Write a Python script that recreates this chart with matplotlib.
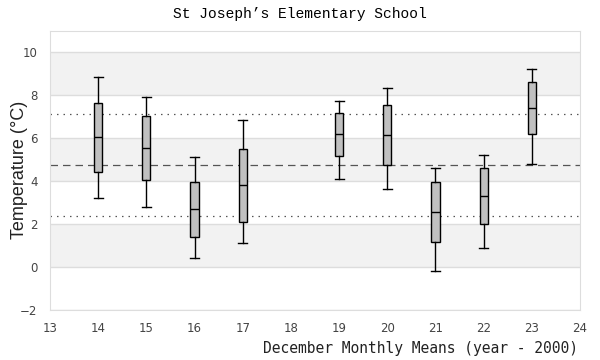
"""Box plot of December monthly means."""
import matplotlib
matplotlib.use("Agg")
import matplotlib.pyplot as plt

years = [14, 15, 16, 17, 19, 20, 21, 22, 23]
whisk_lo = [3.21, 2.79, 0.42, 1.13, 4.09, 3.63, -0.17, 0.88, 4.79]
q1 = [4.42, 4.03, 1.40, 2.09, 5.18, 4.76, 1.16, 2.00, 6.19]
med = [6.06, 5.55, 2.70, 3.81, 6.19, 6.14, 2.56, 3.32, 7.40]
q3 = [7.63, 7.04, 3.98, 5.49, 7.16, 7.53, 3.95, 4.60, 8.60]
whisk_hi = [8.84, 7.91, 5.12, 6.84, 7.72, 8.33, 4.60, 5.21, 9.21]

mean_temp = 4.76
sd_temp = 2.38

y_ticks = [-2, 0, 2, 4, 6, 8, 10]
x_ticks = list(range(13, 25))


def main():
    dpi = 100
    fig = plt.figure(figsize=(600 / dpi, 360 / dpi), dpi=dpi)
    ax = fig.add_axes([50 / 600, 50 / 360, 530 / 600, 279.3 / 360])

    # alternating bands
    for lo in [0, 4, 8]:
        ax.axhspan(lo, lo + 2, color="#f2f2f2", zorder=0, lw=0)
    for y in y_ticks:
        ax.axhline(y, color="#dddddd", lw=1, zorder=1)

    ax.axhline(mean_temp, color="#555555", lw=0.9, ls=(0, (6, 4)), zorder=2)
    ax.axhline(mean_temp + sd_temp, color="#555555", lw=0.9,
               ls=(0, (1.2, 4)), zorder=2)
    ax.axhline(mean_temp - sd_temp, color="#555555", lw=0.9,
               ls=(0, (1.2, 4)), zorder=2)

    stats = []
    for i in range(len(years)):
        stats.append({"whislo": whisk_lo[i], "q1": q1[i], "med": med[i],
                      "q3": q3[i], "whishi": whisk_hi[i], "fliers": []})
    ax.bxp(stats, positions=years, widths=0.17, capwidths=0.19,
           patch_artist=True, showfliers=False, manage_ticks=False,
           boxprops=dict(facecolor="#c0c0c0", edgecolor="black", lw=1.0),
           medianprops=dict(color="black", lw=1.0),
           whiskerprops=dict(color="black", lw=1.0),
           capprops=dict(color="black", lw=1.0), zorder=3)

    ax.set_xlim(13, 24)
    ax.set_ylim(-2, 11)
    ax.set_xticks(x_ticks)
    ax.set_yticks(y_ticks)
    ax.tick_params(length=0, labelsize=8.5, colors="#444444", pad=9)
    for sp in ax.spines.values():
        sp.set_color("#dddddd")

    fig.text(0.5, 1 - 14 / 360, "St Joseph\u2019s Elementary School",
             ha="center", va="center", family="Liberation Mono", fontsize=10.5)
    fig.text(578 / 600, 1 - 348 / 360, "December Monthly Means (year - 2000)",
             ha="right", va="center", family="DejaVu Sans Mono",
             fontsize=10.5, color="#222222")
    fig.text(20 / 600, 1 - 170 / 360, "Temperature (\u00b0C)",
             ha="center", va="center", rotation=90,
             family="Liberation Sans", fontsize=13, color="#222222")

    fig.savefig("out.png", dpi=dpi)


if __name__ == "__main__":
    main()
